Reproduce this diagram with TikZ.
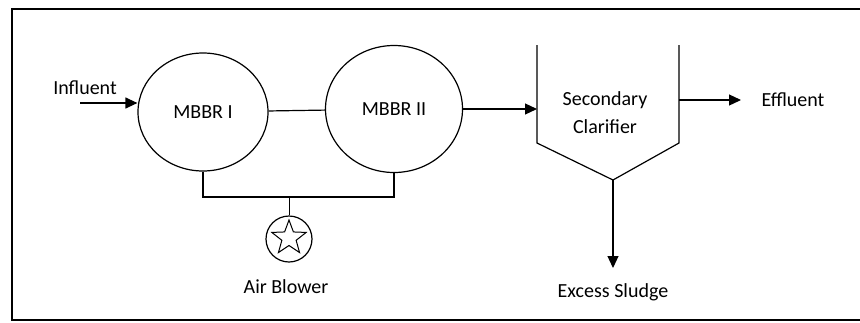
\documentclass[tikz,border=0pt]{standalone}
\usepackage{fontspec}
\setmainfont{Carlito}
\usetikzlibrary{shapes.geometric,arrows.meta}
\tikzset{
  reactor/.style={draw,ellipse,inner sep=0pt},
  label/.style={font=\fontsize{20}{24}\selectfont,inner sep=2pt},
  flow/.style={-{Triangle[length=12pt,width=11pt]}},
}
\begin{document}
\begin{tikzpicture}[x=1pt,y=-1pt,line width=1.2pt]
\useasboundingbox (0,0) rectangle (860,322);
\draw (860,9)--(12,9)--(12,320)--(860,320);
% reactors
\node[reactor,minimum width=130pt,minimum height=118pt,label] (mbbr1) at (203,112) {MBBR I};
\node[reactor,minimum width=137pt,minimum height=127pt,label] (mbbr2) at (394,109) {MBBR II};
\draw (mbbr1)--(mbbr2);
% influent
\node[label] (infl) at (85,88) {Influent};
\coordinate (inflstart) at (80,103);
\draw[flow] (inflstart)--(inflstart -| mbbr1.west);
% air supply
\coordinate (airpipe) at (289,197);
\node[draw,circle,minimum size=46pt,inner sep=0pt] (blower) at (289,239) {};
\node[draw,star,star points=5,star point ratio=2.4,minimum size=36pt,inner sep=0pt,line width=1pt] (star) at ([yshift=1pt]blower) {};
\node[label] (air) at (286,287) {Air Blower};
\draw (mbbr1.south)--(mbbr1.south |- airpipe)-|(mbbr2.south);
\draw[line width=0.8pt] (airpipe)--(blower.north);
% clarifier
\coordinate (clTL) at (537,45); \coordinate (clBL) at (537,143);
\coordinate (clApex) at (613,180);
\coordinate (clBR) at (679,143); \coordinate (clTR) at (679,45);
\draw (clTL)--(clBL)--(clApex)--(clBR)--(clTR);
\node[label,align=center,font=\fontsize{20}{28}\selectfont] (clar) at (605,113) {Secondary\\Clarifier};
\draw[flow] (mbbr2.east)--(mbbr2.east -| clBL);
\node[label] (eff) at (793,100) {Effluent};
\draw[flow] (clTR |- eff)--([xshift=-18pt]eff.west);
\node[label] (sludge) at (613,292) {Excess Sludge};
\draw[flow] (clApex)--(613,268);
\end{tikzpicture}
\end{document}
